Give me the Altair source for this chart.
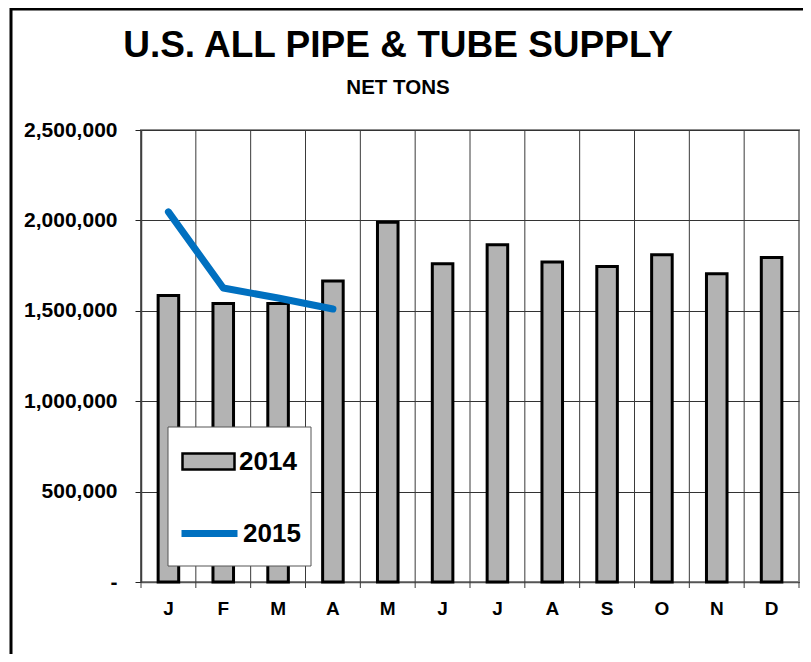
import altair as alt
import pandas as pd

FONT = "Liberation Sans"

months = ["Jan", "Feb", "Mar", "Apr", "May", "Jun", "Jul", "Aug", "Sep", "Oct", "Nov", "Dec"]
supply_2014 = [1585000, 1540000, 1540000, 1665000, 1990000, 1760000,
               1865000, 1770000, 1745000, 1810000, 1705000, 1795000]
months_2015 = ["Jan", "Feb", "Mar", "Apr"]
supply_2015 = [2047000, 1626000, 1571000, 1510000]
y_ticks = [0, 500000, 1000000, 1500000, 2000000, 2500000]
title_text = "U.S. ALL PIPE & TUBE SUPPLY"
subtitle_text = "NET TONS"

bars_df = pd.DataFrame({"month": months, "tons": supply_2014, "series": "2014"})
line_df = pd.DataFrame({"month": months_2015, "tons": supply_2015, "series": "2015"})
month_df = pd.DataFrame({"month": months})
one_df = pd.DataFrame({"k": [0]})
title_df = pd.DataFrame({"t": [title_text]})
subtitle_df = pd.DataFrame({"t": [subtitle_text]})

W, H = 658, 452

x_scale = alt.Scale(domain=months, paddingInner=0, paddingOuter=0)
x_axis = alt.Axis(title=None, labelExpr="substring(datum.value, 0, 1)", ticks=False,
                  tickSize=0, grid=False, labelAngle=0, labelFontSize=19,
                  labelFontWeight="bold", labelFont=FONT, labelPadding=17,
                  labelColor="black", domainColor="#555555", domainWidth=1.5)
y_scale = alt.Scale(domain=[0, 2500000], nice=False)
y_axis = alt.Axis(title=None, values=y_ticks,
                  labelExpr="datum.value == 0 ? '-\u00a0\u00a0\u00a0' : format(datum.value, ',')",
                  labelFontSize=21, labelFontWeight="bold", labelFont=FONT, labelColor="black",
                  labelPadding=18, tickSize=6, tickColor="#222222", domainColor="#444444",
                  domainWidth=1.5, grid=True, gridColor="#333333", gridWidth=1)

frame = alt.Chart(one_df).mark_rect(filled=False, stroke="black", strokeWidth=3).encode(
    x=alt.value(-130), x2=alt.value(700), y=alt.value(-121), y2=alt.value(600)
)

title_mark = alt.Chart(title_df).mark_text(
    font=FONT, fontSize=37, fontWeight="bold", color="black", align="center",
    baseline="alphabetic"
).encode(text="t:N", x=alt.value(257), y=alt.value(-73))

subtitle_mark = alt.Chart(subtitle_df).mark_text(
    font=FONT, fontSize=20.5, fontWeight="bold", color="black", align="center",
    baseline="alphabetic"
).encode(text="t:N", x=alt.value(257), y=alt.value(-36))

vgrid = alt.Chart(month_df).mark_rule(color="#3a3a3a", strokeWidth=1).encode(
    x=alt.X("month:N", sort=months, scale=x_scale, axis=x_axis, bandPosition=0),
    y=alt.value(0), y2=alt.value(H + 6)
)
vgrid_end = alt.Chart(month_df).transform_filter("datum.month == 'Dec'").mark_rule(
    color="#3a3a3a", strokeWidth=1).encode(
    x=alt.X("month:N", sort=months, bandPosition=1),
    y=alt.value(H), y2=alt.value(H + 6)
)

bars = alt.Chart(bars_df).mark_bar(
    width=alt.RelativeBandSize(0.375), stroke="black", strokeWidth=3
).encode(
    x=alt.X("month:N", sort=months),
    y=alt.Y("tons:Q", scale=y_scale, axis=y_axis),
    fill=alt.Fill("series:N", scale=alt.Scale(domain=["2014"], range=["#b3b3b3"]),
                  legend=alt.Legend(title=None, orient="none", legendX=40, legendY=304,
                                    symbolType="M-1,-0.31H1V0.31H-1Z", symbolSize=2704,
                                    symbolStrokeColor="black", symbolStrokeWidth=2.5,
                                    symbolFillColor="#b3b3b3",
                                    labelFontSize=26, labelFontWeight="bold", labelFont=FONT,
                                    labelColor="black", labelOffset=3, padding=0))
)

line = alt.Chart(line_df).mark_line(strokeWidth=7, strokeCap="round", strokeJoin="round").encode(
    x=alt.X("month:N", sort=months),
    y=alt.Y("tons:Q"),
    stroke=alt.Stroke("series:N", scale=alt.Scale(domain=["2015"], range=["#0070C0"]),
                      legend=alt.Legend(title=None, orient="none", legendX=37, legendY=372,
                                        symbolType="stroke", symbolSize=3136,
                                        symbolStrokeWidth=7,
                                        labelFontSize=26, labelFontWeight="bold", labelFont=FONT,
                                        labelColor="black", labelOffset=2, padding=0))
)

legend_box = alt.Chart(one_df).mark_rect(fill="white", stroke="#555555", strokeWidth=1).encode(
    x=alt.value(27), x2=alt.value(170), y=alt.value(297), y2=alt.value(436)
)

chart = alt.layer(frame, title_mark, subtitle_mark, vgrid, vgrid_end, bars, line,
                  legend_box).properties(
    width=W, height=H,
    autosize=alt.AutoSizeParams(type="none"),
    padding={"left": 133, "top": 122, "right": 4, "bottom": 72},
    background="white",
).configure_view(stroke="#8c8c8c", strokeWidth=2)

chart.save("out.html", embed_options={"renderer": "svg", "actions": False})
